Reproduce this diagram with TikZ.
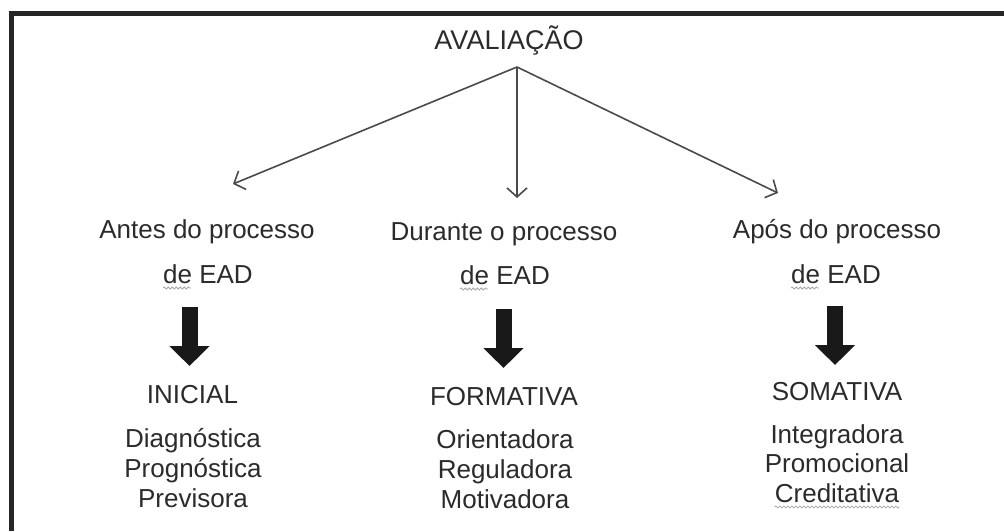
\documentclass[tikz,border=0pt]{standalone}
\usepackage{fontspec}
\setmainfont{Liberation Sans}
\usetikzlibrary{arrows.meta,decorations.pathmorphing}
\definecolor{ink}{HTML}{2B2B2B}
\definecolor{lineink}{HTML}{4A4A4A}
\tikzset{
  lbl/.style={inner sep=0pt, anchor=base, text=ink, font=\fontsize{26}{30}\selectfont},
  title/.style={inner sep=0pt, anchor=base, text=ink, font=\fontsize{27}{31}\selectfont},
  thinarrow/.style={draw=lineink, line width=1.6pt, -{Straight Barb[length=9pt,width=20pt,line width=1.6pt]}},
  bigarrow/.style={draw=black!90, line width=16pt, -{Triangle[length=20pt,width=39pt]}},
  squiggle/.style={draw=gray!70, line width=0.8pt, decorate, decoration={snake, segment length=4pt, amplitude=1pt}},
  frameline/.style={draw=black!85, line width=5pt}
}
\begin{document}
\begin{tikzpicture}[x=1pt,y=-1pt]
\useasboundingbox (0,0) rectangle (1004,531);
\fill[white] (0,0) rectangle (1004,531);
% frame
\draw[frameline] (8.5,13) -- (1004,13);
\draw[frameline] (11,11) -- (11,531);

% title
\node[title] (aval) at (509,49) {AVALIAÇÃO};
\coordinate (apex) at (517,67);
\coordinate (tipL) at (233,184);
\coordinate (tipM) at (517,198);
\coordinate (tipR) at (778,193);
\draw[thinarrow] (apex) -- (tipL);
\draw[thinarrow] (apex) -- (tipM);
\draw[thinarrow] (apex) -- (tipR);

% left column
\node[lbl] (l1) at (207,238) {Antes do processo};
\node[lbl] (l2) at (208,283) {de EAD};
\coordinate (la) at (189.5,307);
\coordinate (lb) at (189.5,366);
\draw[bigarrow] (la) -- (lb);
\node[lbl] (l3) at (192.5,403) {INICIAL};
\node[lbl] (l4) at (193,447) {Diagnóstica};
\node[lbl] (l5) at (193,477) {Prognóstica};
\node[lbl] (l6) at (193,507) {Previsora};

% middle column
\node[lbl] (m1) at (504,240) {Durante o processo};
\node[lbl] (m2) at (505,284) {de EAD};
\coordinate (ma) at (503.5,309);
\coordinate (mb) at (503.5,368);
\draw[bigarrow] (ma) -- (mb);
\node[lbl] (m3) at (504,405) {FORMATIVA};
\node[lbl] (m4) at (505,448) {Orientadora};
\node[lbl] (m5) at (505,478) {Reguladora};
\node[lbl] (m6) at (505,508) {Motivadora};

% right column
\node[lbl] (r1) at (837,238) {Após do processo};
\node[lbl] (r2) at (836,283) {de EAD};
\coordinate (ra) at (835,306);
\coordinate (rb) at (835,365);
\draw[bigarrow] (ra) -- (rb);
\node[lbl] (r3) at (837,400) {SOMATIVA};
\node[lbl] (r4) at (837,443) {Integradora};
\node[lbl] (r5) at (837,472) {Promocional};
\node[lbl] (r6) at (837,502) {Creditativa};

% spell-check squiggles
\draw[squiggle] ([yshift=-5pt]l2.base west) -- ++(28,0);
\draw[squiggle] ([yshift=-5pt]m2.base west) -- ++(28,0);
\draw[squiggle] ([yshift=-5pt]r2.base west) -- ++(28,0);
\draw[squiggle] ([yshift=-5pt]r6.base west) -- ([yshift=-5pt]r6.base east);
\end{tikzpicture}
\end{document}
